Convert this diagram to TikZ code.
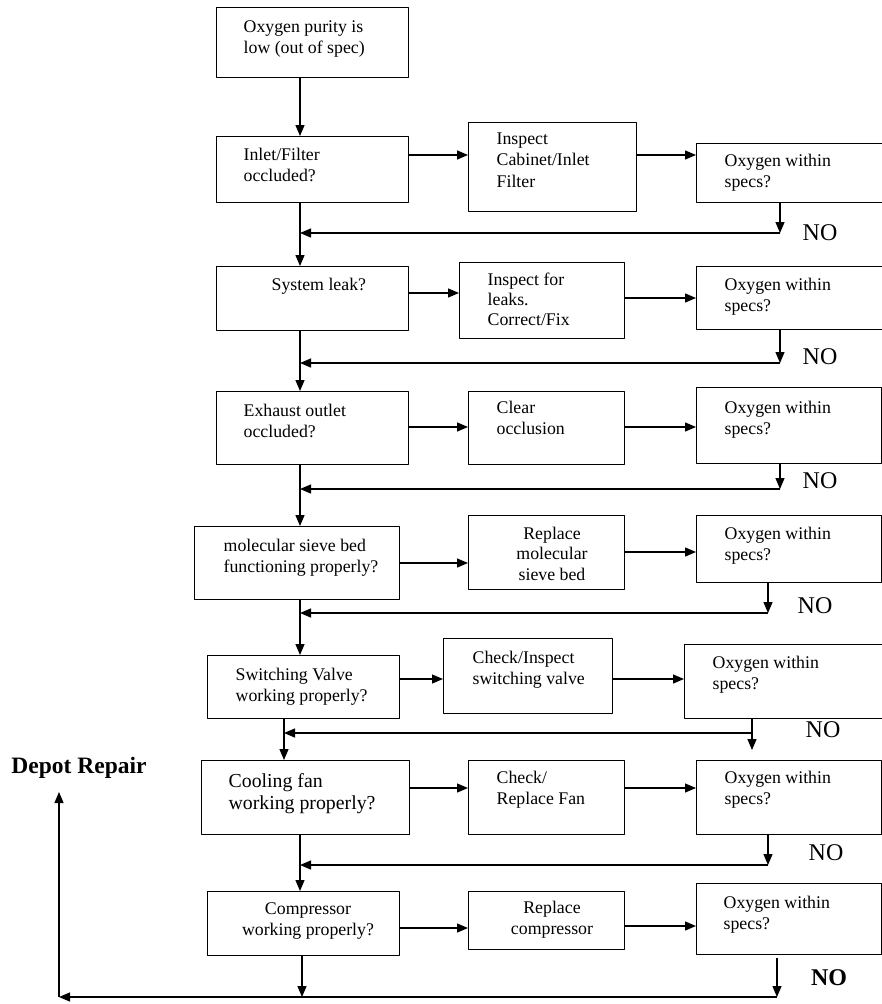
\documentclass[tikz,border=0pt]{standalone}
\usepackage{fontspec}
\setmainfont{Liberation Serif}
\usetikzlibrary{arrows.meta}

\begin{document}
\begin{tikzpicture}[x=1pt, y=-1pt, >={Triangle[length=11pt,width=9pt]}, line width=1.3pt,
	font=\fontsize{17.8}{21.5}\selectfont, line join=round,
	box/.style={draw, anchor=north west, inner sep=0pt},
	txt/.style={anchor=north west, align=left, inner sep=0pt},
	ctxt/.style={anchor=north, align=center, inner sep=0pt},
	no/.style={font=\fontsize{24}{28}\selectfont}]
	\useasboundingbox (0,0) rectangle (882,1004);
	\clip (0,0) rectangle (882,1004);
	% questions on the left
	\node[box, minimum width=192pt, minimum height=70pt] (S) at (216,7) {};
	\node[box, minimum width=192pt, minimum height=66pt] (L1) at (216,136) {};
	\node[box, minimum width=192pt, minimum height=64pt] (L2) at (216,266) {};
	\node[box, minimum width=192pt, minimum height=73pt] (L3) at (216,391) {};
	\node[box, minimum width=205pt, minimum height=73pt] (L4) at (194,526) {};
	\node[box, minimum width=192pt, minimum height=63pt] (L5) at (207,655) {};
	\node[box, minimum width=208pt, minimum height=74pt] (L6) at (201,760) {};
	\node[box, minimum width=192pt, minimum height=64pt] (L7) at (207,891) {};
	% actions
	\node[box, minimum width=168pt, minimum height=89pt] (M1) at (468,122) {};
	\node[box, minimum width=165pt, minimum height=76pt] (M2) at (459,262) {};
	\node[box, minimum width=156pt, minimum height=73pt] (M3) at (468,391) {};
	\node[box, minimum width=156pt, minimum height=74pt] (M4) at (468,515) {};
	\node[box, minimum width=169pt, minimum height=75pt] (M5) at (443,638) {};
	\node[box, minimum width=156pt, minimum height=74pt] (M6) at (468,760) {};
	\node[box, minimum width=156pt, minimum height=58pt] (M7) at (468,891) {};
	% checks on the right
	\node[box, minimum width=190pt, minimum height=59pt] (O1) at (696,143) {};
	\node[box, minimum width=190pt, minimum height=63pt] (O2) at (696,266) {};
	\node[box, minimum width=185pt, minimum height=76pt] (O3) at (696,387) {};
	\node[box, minimum width=185pt, minimum height=67pt] (O4) at (696,515) {};
	\node[box, minimum width=202pt, minimum height=74pt] (O5) at (684,644) {};
	\node[box, minimum width=185pt, minimum height=74pt] (O6) at (696,760) {};
	\node[box, minimum width=185pt, minimum height=71pt] (O7) at (696,883) {};
	% texts
	\node[txt] (tS) at (243,20) {Oxygen purity is\\low (out of spec)};
	\node[txt] (tL1) at (243,147) {Inlet/Filter\\occluded?};
	\node[txt] (tL2) at (271,277) {System leak?};
	\node[txt] (tL3) at (243,403) {Exhaust outlet\\occluded?};
	\node[txt] (tL4) at (223,538) {molecular sieve bed\\functioning properly?};
	\node[txt] (tL5) at (235,667) {Switching Valve\\working properly?};
	\node[txt, font=\fontsize{19.8}{22}\selectfont] (tL6) at (228,773) {Cooling fan\\working properly?};
	\node[ctxt] (tL7) at (308,902) {Compressor\\working properly?};
	\node[txt] (tM1) at (496,132) {Inspect\\Cabinet/Inlet\\Filter};
	\node[txt, font=\fontsize{17.8}{20}\selectfont] (tM2) at (487,272) {Inspect for\\leaks.\\Correct/Fix};
	\node[txt] (tM3) at (496,400) {Clear\\occlusion};
	\node[ctxt, font=\fontsize{17.8}{20.5}\selectfont] (tM4) at (552,526) {Replace\\molecular\\sieve bed};
	\node[txt] (tM5) at (472,650) {Check/Inspect\\switching valve};
	\node[txt] (tM6) at (496,770) {Check/\\Replace Fan};
	\node[ctxt] (tM7) at (552,900) {Replace\\compressor};
	\foreach \i/\x/\y in {1/724/153, 2/724/277, 3/724/400, 4/724/526, 5/712/655, 6/724/770, 7/723/895}
		\node[txt] (tO\i) at (\x,\y) {Oxygen within\\specs?};
	% main line down the left
	\draw[->] (S.south -| 300,0) -- (L1.north -| 300,0);
	\draw[->] (L1.south -| 300,0) -- (L2.north -| 300,0);
	\draw[->] (L2.south -| 300,0) -- (L3.north -| 300,0);
	\draw[->] (L3.south -| 300,0) -- (L4.north -| 300,0);
	\draw[->] (L4.south -| 300,0) -- (L5.north -| 300,0);
	\draw[->] (L5.south -| 284,0) -- (L6.north -| 284,0);
	\draw[->] (L6.south -| 300,0) -- (L7.north -| 300,0);
	% rows
	\foreach \i/\ya/\yb in {1/155/155, 2/293/298, 3/427/427, 4/563/552, 5/679/679, 6/788/788, 7/928/926} {
		\draw[->] (L\i.east |- 0,\ya) -- (M\i.west |- 0,\ya);
		\draw[->] (M\i.east |- 0,\yb) -- (O\i.west |- 0,\yb);
	}
	% NO branches back to the main line
	\foreach \i/\x/\y/\t in {1/780/233/300, 2/780/363/300, 3/780/489/300, 4/768/613/300, 6/768/865/300} {
		\coordinate (n\i) at (\x,\y);
		\draw[->] (O\i.south -| n\i) -- (n\i);
		\draw[->] (n\i) -- (\t,\y);
	}
	\coordinate (n5) at (752,733);
	\draw[->] (O5.south -| n5) -- (752,750);
	\draw[->] (n5) -- (284,733);
	\node[no] (no1) at (820,233) {NO};
	\node[no] (no2) at (820,357) {NO};
	\node[no] (no3) at (820,481) {NO};
	\node[no] (no4) at (815,606) {NO};
	\node[no] (no5) at (823,730) {NO};
	\node[no] (no6) at (826,853) {NO};
	\node[no, font=\fontsize{24}{28}\selectfont\bfseries] (no7) at (829,978) {NO};
	% depot repair
	\coordinate (n7) at (777,997);
	\coordinate (corner) at (59,997);
	\draw[->] ([yshift=-3pt]O7.south -| n7) -- (n7);
	\draw[->] (L7.south -| 302,0) -- (302,997);
	\draw[->] (n7) -- (corner);
	\draw[->] (corner) -- (59,792);
	\node[font=\fontsize{23.5}{28}\selectfont\bfseries] (depot) at (79,768) {Depot Repair};
\end{tikzpicture}
\end{document}
